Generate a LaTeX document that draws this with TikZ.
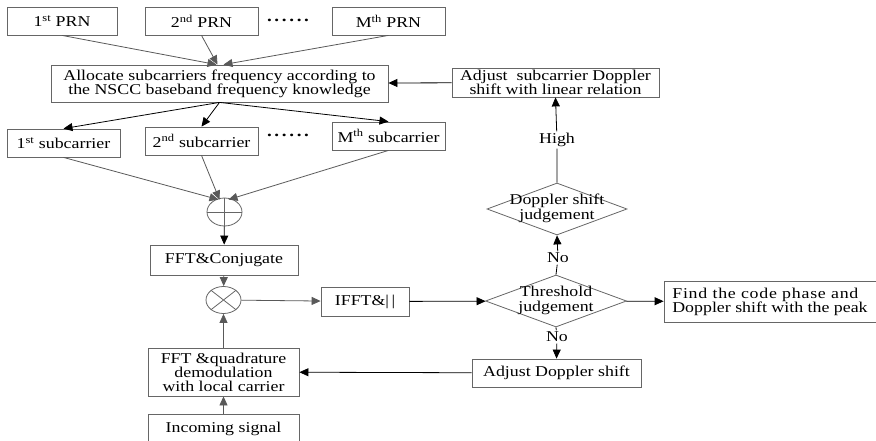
\documentclass[tikz,border=0pt]{standalone}
\usepackage{fontspec}
\setmainfont[FakeStretch=1.19]{Liberation Serif}
\usetikzlibrary{positioning,shapes.geometric,arrows.meta}

% two centred lines that may overhang a diamond
\newcommand{\twoline}[2]{\makebox[0pt]{\begin{tabular}{@{}c@{}}#1\\#2\end{tabular}}}

\begin{document}
\begin{tikzpicture}[
  x=1pt, y=-1pt,
  font=\fontsize{15}{14}\selectfont,
  every node/.style={align=center},
  box/.style={rectangle, draw=black!60, line width=0.8pt, inner sep=0pt, minimum height=28pt},
  judge/.style={diamond, draw=black!60, line width=0.8pt, inner sep=0pt, minimum width=141pt, minimum height=52pt},
  op/.style={ellipse, draw=black!60, line width=0.8pt, inner sep=0pt, minimum width=35pt, minimum height=28pt},
  tag/.style={fill=white, inner sep=1.5pt},
  dots/.style={inner sep=0pt, font=\fontsize{16}{14}\selectfont\bfseries},
  garrow/.style={draw=black!65, line width=0.8pt, -{Triangle[length=9pt,width=8pt]}},
  barrow/.style={draw=black, line width=0.8pt, -{Triangle[length=9pt,width=8pt]}},
]
\useasboundingbox (0,0) rectangle (876,441);
\clip (0,0) rectangle (876,441);

% PRN codes and subcarrier allocation
\node[box, minimum width=110pt] (prn1) at (62,21) {1\textsuperscript{st} PRN};
\node[box, minimum width=113pt] (prn2) at (201.5,21) {2\textsuperscript{nd} PRN};
\node[dots] (dots1) at (288,20) {.\,.\,.\,.\,.\,.};
\node[box, minimum width=113pt] (prnM) at (388.5,21) {M\textsuperscript{th} PRN};
\node[box, minimum width=337pt, minimum height=37pt] (alloc) at (219.5,83.5) {Allocate subcarriers frequency according to\\the NSCC baseband frequency knowledge};
\node[box, minimum width=207pt, minimum height=29pt] (adjsub) at (555.5,82.5) {Adjust\ \ subcarrier Doppler\\shift with linear relation};

\node[box, minimum width=113pt] (sub1) at (63.5,143) {1\textsuperscript{st} subcarrier};
\node[box, minimum width=113pt] (sub2) at (201.5,141) {2\textsuperscript{nd} subcarrier};
\node[dots] (dots2) at (288,135) {.\,.\,.\,.\,.\,.};
\node[box, minimum width=113pt] (subM) at (388.5,136) {M\textsuperscript{th} subcarrier};

% local replica and correlation
\node[op] (sum) at (224.5,212) {};
\draw[draw=black!60, line width=0.8pt] (sum.north) -- (sum.south) (sum.west) -- (sum.east);
\node[box, minimum width=148pt, minimum height=30pt] (fftc) at (224,260) {FFT\&Conjugate};
\node[op, minimum height=27pt] (mult) at (223.5,300) {};
\draw[draw=black!60, line width=0.8pt] (mult.north west) -- (mult.south east) (mult.north east) -- (mult.south west);
\node[box, minimum width=88pt, minimum height=29pt] (ifft) at (365,301.5) {IFFT\&|\,|};
\node[box, minimum width=151pt, minimum height=48pt] (fftq) at (223.5,372) {FFT \&quadrature\\demodulation\\with local carrier};
\node[box, minimum width=151pt, minimum height=30pt] (inc) at (223.5,429) {Incoming signal};

% decisions
\node[judge] (thr) at (556,301) {\twoline{Threshold}{judgement}};
\node[judge, minimum width=140pt] (dop) at (557,209) {\twoline{Doppler shift}{judgement}};
\node[box, minimum width=212pt, minimum height=41pt, align=left] (find) at (770,301.5) {{\addfontfeature{LetterSpace=5}Find the code phase and}\\Doppler shift with the peak};
\node[box, minimum width=169pt] (adjd) at (556.5,373) {Adjust Doppler shift};

\node[tag] (high) at (557,140) {High};
\node[tag] (no1) at (558,258) {No};
\node[tag] (no2) at (557,337) {No};

% connectors
\draw[garrow] (prn1.south) -- ([xshift=-3pt]alloc.north);
\draw[garrow] (prn2.south) -- ([xshift=-2pt]alloc.north);
\draw[garrow] (prnM.south) -- ([xshift=4pt]alloc.north);
\draw[barrow] (alloc.south) -- (sub1.north);
\draw[barrow] (alloc.south) -- (sub2.north);
\draw[barrow] (alloc.south) -- (subM.north);
\draw[garrow] (sub1.south) -- ([xshift=-6pt,yshift=-2pt]sum.north);
\draw[garrow] (sub2.south) -- ([xshift=-5pt,yshift=-2pt]sum.north);
\draw[garrow] (subM.south) -- ([xshift=4pt,yshift=-2pt]sum.north);
\draw[barrow] (sum) -- (fftc);
\draw[garrow] (fftc) -- (mult);
\draw[garrow] (mult) -- (ifft);
\draw[barrow] (ifft) -- (thr);
\draw[barrow] (thr) -- (find);
\draw[barrow] (thr.south) -- (no2) -- (adjd.north);
\draw[barrow] (adjd) -- (fftq);
\draw[garrow] (inc) -- (fftq);
\draw[garrow] (fftq) -- (mult);
\draw[barrow] (thr.north) -- (no1) -- (dop.south);
\draw[barrow] (dop.north) -- (high) -- (adjsub.south);
\draw[barrow] (adjsub) -- (alloc);
\end{tikzpicture}
\end{document}
